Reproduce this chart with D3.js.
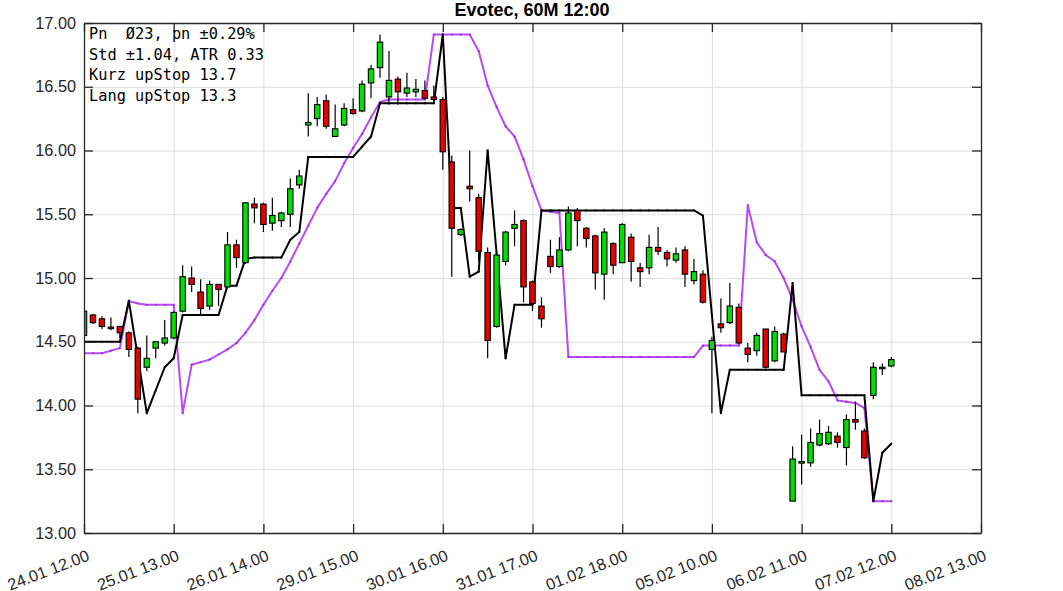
<!DOCTYPE html>
<html><head><meta charset="utf-8">
<script src="https://cdn.jsdelivr.net/npm/d3@7"></script>
<style>body{margin:0;background:#fff}</style>
</head><body>
<svg id="c" width="1063" height="591"></svg>
<script>
const chartTitle = "Evotec, 60M 12:00";
const infoLines = ["Pn  Ø23, pn ±0.29%", "Std ±1.04, ATR 0.33", "Kurz upStop 13.7", "Lang upStop 13.3"];
const xTickIndex = [0, 10, 20, 30, 40, 50, 60, 70, 80, 90, 100];
const xTickLabels = ["24.01 12.00", "25.01 13.00", "26.01 14.00", "29.01 15.00", "30.01 16.00", "31.01 17.00", "01.02 18.00", "05.02 10.00", "06.02 11.00", "07.02 12.00", "08.02 13.00"];
const yTicks = [13.0, 13.5, 14.0, 14.5, 15.0, 15.5, 16.0, 16.5, 17.0];

const openP = [14.55,14.71,14.68,14.615,14.62,14.57,14.45,14.30,14.45,14.49,
 14.53,14.74,15.00,14.89,14.78,14.95,14.93,15.26,15.12,15.58,
 15.58,15.43,15.45,15.50,15.73,16.20,16.25,16.39,16.11,16.20,
 16.32,16.31,16.53,16.65,16.42,16.56,16.45,16.46,16.47,16.42,
 16.40,15.91,15.34,15.72,15.63,15.20,14.62,15.13,15.39,15.45,
 14.97,14.78,15.17,15.09,15.22,15.53,15.39,15.33,15.03,15.27,
 15.12,15.32,15.08,15.08,15.24,15.20,15.14,15.22,14.98,15.03,
 14.44,14.64,14.65,14.77,14.45,14.43,14.60,14.35,14.56,13.25,
 13.55,13.55,13.69,13.70,13.76,13.67,13.89,13.80,14.08,14.29,14.31];
const highP = [14.75,14.72,14.70,14.69,14.62,14.58,14.46,14.55,14.50,14.67,
 14.74,15.10,15.09,14.99,14.98,14.95,15.36,15.30,15.59,15.63,
 15.59,15.63,15.52,15.78,15.85,16.45,16.42,16.44,16.36,16.37,
 16.41,16.55,16.67,16.91,16.78,16.58,16.61,16.56,16.55,16.51,
 16.42,15.96,15.39,16.00,15.66,15.24,15.18,15.37,15.53,15.46,
 14.98,14.85,15.30,15.32,15.56,15.55,15.40,15.34,15.39,15.28,
 15.43,15.35,15.12,15.34,15.40,15.22,15.24,15.25,15.15,15.06,
 14.54,14.84,14.96,14.80,14.49,14.57,14.60,14.62,14.57,13.68,
 13.77,13.82,13.89,13.84,13.79,13.93,14.03,13.82,14.34,14.33,14.38];
const lowP = [14.54,14.64,14.60,14.59,14.53,14.38,13.94,14.27,14.37,14.47,
 14.52,14.73,14.89,14.71,14.75,14.78,14.92,15.08,15.11,15.43,
 15.36,15.37,15.40,15.40,15.70,16.11,16.19,16.17,16.11,16.19,
 16.28,16.30,16.41,16.57,16.36,16.36,16.42,16.42,16.40,16.38,
 15.85,15.01,15.33,15.60,15.13,14.37,14.61,15.10,15.25,14.81,
 14.74,14.61,15.04,15.08,15.21,15.25,15.24,14.91,14.83,15.03,
 15.12,14.97,14.93,15.03,15.18,15.09,15.12,14.93,14.95,14.80,
 13.94,14.57,14.64,14.48,14.34,14.39,14.29,14.34,14.42,13.25,
 13.38,13.52,13.68,13.69,13.67,13.53,13.81,13.58,14.05,14.24,14.30];
const closeP = [14.74,14.65,14.62,14.61,14.57,14.44,14.05,14.37,14.50,14.53,
 14.73,15.01,14.95,14.76,14.95,14.91,15.26,15.16,15.59,15.55,
 15.42,15.49,15.51,15.70,15.80,16.22,16.36,16.19,16.17,16.33,
 16.29,16.52,16.64,16.85,16.55,16.46,16.49,16.48,16.41,16.40,
 15.99,15.39,15.38,15.70,15.21,14.51,15.18,15.36,15.42,14.93,
 14.80,14.68,15.09,15.22,15.51,15.45,15.31,15.04,15.36,15.10,
 15.42,15.13,15.05,15.24,15.21,15.15,15.19,15.03,15.05,14.81,
 14.51,14.61,14.78,14.49,14.40,14.55,14.30,14.58,14.42,13.58,
 13.56,13.71,13.78,13.79,13.71,13.89,13.87,13.59,14.30,14.30,14.36];
const kurzStop = [14.50,14.50,14.50,14.50,14.50,14.82,14.38,13.94,14.12,14.30,
 14.37,14.71,14.71,14.71,14.71,14.71,14.94,14.94,15.15,15.16,
 15.16,15.16,15.16,15.30,15.36,15.95,15.95,15.95,15.95,15.95,
 15.95,16.03,16.11,16.37,16.37,16.37,16.37,16.37,16.37,16.37,
 16.91,15.55,15.55,15.01,15.05,16.00,15.19,14.37,14.79,14.79,
 14.79,15.53,15.53,15.53,15.53,15.53,15.53,15.53,15.53,15.53,
 15.53,15.53,15.53,15.53,15.53,15.53,15.53,15.53,15.53,15.49,
 14.71,13.94,14.28,14.28,14.28,14.28,14.28,14.28,14.28,14.96,
 14.08,14.08,14.08,14.08,14.08,14.08,14.08,14.08,13.25,13.63,13.70];
const langStop = [14.41,14.41,14.41,14.43,14.45,14.82,14.80,14.79,14.79,14.79,
 14.79,13.94,14.32,14.34,14.36,14.40,14.44,14.49,14.57,14.67,
 14.79,14.90,15.00,15.13,15.27,15.41,15.55,15.66,15.76,15.90,
 16.02,16.13,16.26,16.38,16.40,16.40,16.40,16.40,16.40,16.91,
 16.91,16.91,16.91,16.91,16.78,16.51,16.34,16.19,16.11,15.93,
 15.72,15.53,15.52,15.51,14.38,14.38,14.38,14.38,14.38,14.38,
 14.38,14.38,14.38,14.38,14.38,14.38,14.38,14.38,14.38,14.47,
 14.47,14.47,14.47,14.47,15.57,15.28,15.18,15.13,15.00,14.83,
 14.62,14.46,14.28,14.19,14.04,14.03,14.02,13.98,13.25,13.25,13.25];

const W = 1063, H = 591;
const L = 84, R = 981, T = 23, B = 533;
const svg = d3.select("#c");
const x = d3.scaleLinear().domain([0, 100]).range([L, R]);
const y = d3.scaleLinear().domain([13, 17]).range([B, T]);
const ink = "#262626";
const labelFont = "Liberation Sans, Arial, sans-serif";

svg.append("rect").attr("width", W).attr("height", H).attr("fill", "#fff");

// grid
const gx = svg.append("g").attr("transform", `translate(0,${B})`)
  .call(d3.axisBottom(x).tickValues(xTickIndex).tickSize(-(B - T)).tickFormat(""));
gx.select(".domain").remove();
gx.selectAll("line").attr("stroke", "#dddddd").attr("stroke-width", 1);
const gy = svg.append("g").attr("transform", `translate(${L},0)`)
  .call(d3.axisLeft(y).tickValues(yTicks).tickSize(-(R - L)).tickFormat(""));
gy.select(".domain").remove();
gy.selectAll("line").attr("stroke", "#dddddd").attr("stroke-width", 1);

svg.append("defs").append("clipPath").attr("id", "clip")
  .append("rect").attr("x", L).attr("y", T).attr("width", R - L).attr("height", B - T);
const plot = svg.append("g").attr("clip-path", "url(#clip)");

const idx = d3.range(closeP.length);

// lang stop (purple)
plot.append("path").datum(idx)
  .attr("d", d3.line().x(i => x(i)).y(i => y(langStop[i])))
  .attr("fill", "none").attr("stroke", "#b84af5").attr("stroke-width", 2).attr("stroke-linejoin", "round");
plot.append("g").selectAll("circle").data(idx).join("circle")
  .attr("cx", i => x(i)).attr("cy", i => y(langStop[i])).attr("r", 1.1).attr("fill", "#9a30e0");

// kurz stop (black)
plot.append("path").datum(idx)
  .attr("d", d3.line().x(i => x(i)).y(i => y(kurzStop[i])))
  .attr("fill", "none").attr("stroke", "#000").attr("stroke-width", 2).attr("stroke-linejoin", "round");
plot.append("g").selectAll("circle").data(idx).join("circle")
  .attr("cx", i => x(i)).attr("cy", i => y(kurzStop[i])).attr("r", 1.1).attr("fill", "#000");

// candles
const cw = 5.4;
const cg = plot.append("g");
cg.selectAll("line").data(idx).join("line")
  .attr("x1", i => x(i)).attr("x2", i => x(i))
  .attr("y1", i => y(highP[i])).attr("y2", i => y(lowP[i]))
  .attr("stroke", "#000").attr("stroke-width", 1.2);
cg.selectAll("rect").data(idx).join("rect")
  .attr("x", i => x(i) - cw / 2)
  .attr("y", i => y(Math.max(openP[i], closeP[i])))
  .attr("width", cw)
  .attr("height", i => Math.max(1.5, Math.abs(y(openP[i]) - y(closeP[i]))))
  .attr("fill", i => closeP[i] >= openP[i] ? "#00e000" : "#e80000")
  .attr("stroke", "#000").attr("stroke-width", 1.1);

// axes (box with inward ticks)
const ax = (g) => { g.selectAll("path.domain").attr("stroke", ink).attr("stroke-width", 1.3);
  g.selectAll(".tick line").attr("stroke", ink).attr("stroke-width", 1.3); };

const axL = svg.append("g").attr("transform", `translate(${L},0)`)
  .call(d3.axisLeft(y).tickValues(yTicks).tickFormat(d3.format(".2f")).tickSizeInner(-9).tickSizeOuter(0).tickPadding(8));
ax(axL);
axL.selectAll("text").attr("fill", ink).attr("font-family", labelFont).attr("font-size", 16.3);

const axR = svg.append("g").attr("transform", `translate(${R},0)`)
  .call(d3.axisRight(y).tickValues(yTicks).tickFormat("").tickSizeInner(-9).tickSizeOuter(0));
ax(axR);
const axT = svg.append("g").attr("transform", `translate(0,${T})`)
  .call(d3.axisTop(x).tickValues(xTickIndex).tickFormat("").tickSizeInner(-9).tickSizeOuter(0));
ax(axT);
const axB = svg.append("g").attr("transform", `translate(0,${B})`)
  .call(d3.axisBottom(x).tickValues(xTickIndex).tickFormat((d, k) => xTickLabels[k]).tickSizeInner(-9).tickSizeOuter(0));
ax(axB);
axB.selectAll("text").attr("fill", ink).attr("font-family", labelFont).attr("font-size", 16.3)
  .attr("x", 0).attr("y", 0).attr("dy", 0)
  .attr("text-anchor", "end")
  .attr("transform", "translate(6,27) rotate(-21)");

// title
svg.append("text").attr("x", 532).attr("y", 15.5).attr("text-anchor", "middle")
  .attr("font-family", labelFont).attr("font-weight", "bold").attr("font-size", 18)
  .attr("fill", "#000").text(chartTitle);

// info text
svg.append("g").selectAll("text").data(infoLines).join("text")
  .attr("x", 89).attr("y", (d, k) => 39 + k * 20.5)
  .attr("font-family", "DejaVu Sans Mono, monospace").attr("font-size", 15.3)
  .attr("fill", "#000").attr("xml:space", "preserve").style("white-space", "pre")
  .text(d => d);
</script>
</body></html>
